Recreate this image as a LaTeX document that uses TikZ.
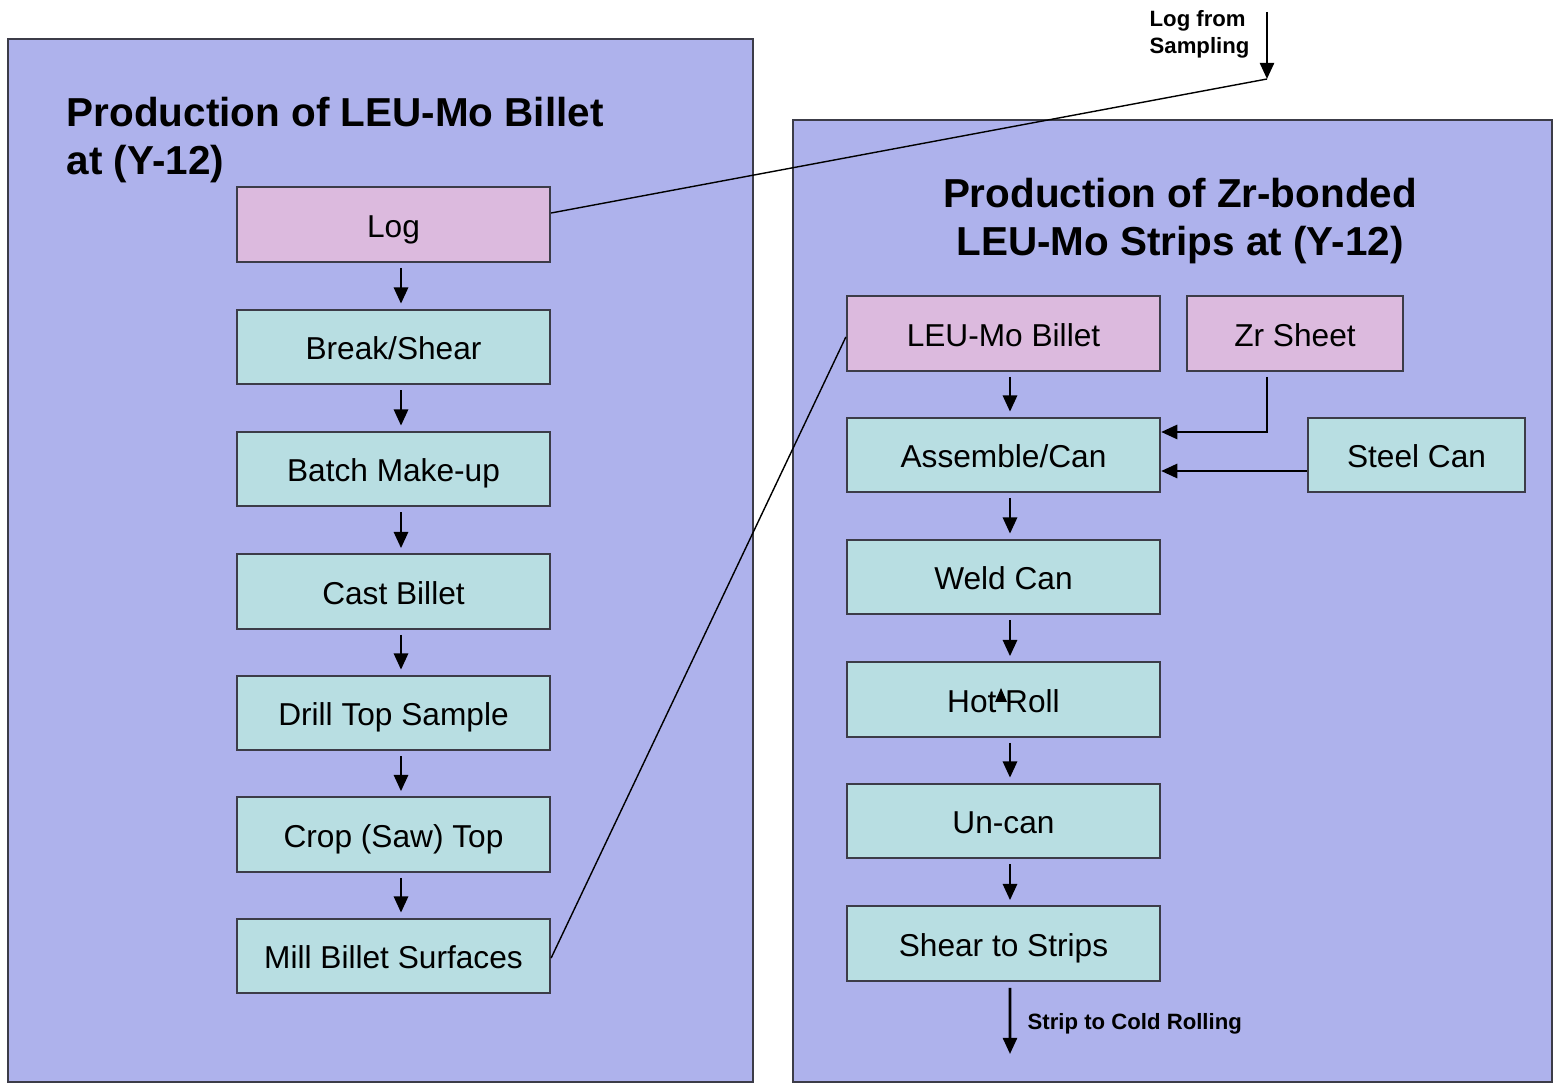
\documentclass[tikz,border=0pt]{standalone}
\usepackage{fontspec}
\setmainfont{Liberation Sans}
\usetikzlibrary{arrows.meta}
\definecolor{panelc}{RGB}{174,178,236}
\definecolor{pinkc}{RGB}{220,186,222}
\definecolor{tealc}{RGB}{184,222,226}
\definecolor{edgec}{RGB}{60,60,72}
\tikzset{
  panel/.style={draw=edgec, line width=0.6pt, fill=panelc},
  boxbase/.style={draw=edgec, line width=0.6pt, inner sep=0pt, minimum width=3.13cm, minimum height=0.745cm, text height=0.72em, text depth=0pt, font=\fontsize{9}{10.8}\selectfont},
  pbox/.style={boxbase, fill=pinkc},
  tbox/.style={boxbase, fill=tealc},
  arr/.style={line width=0.75pt, -{Triangle[width=4pt,length=4.6pt]}},
  thin line/.style={line width=0.4pt},
  titletext/.style={font=\fontsize{11.5}{13.8}\selectfont\bfseries, inner sep=0pt},
  smalltext/.style={font=\fontsize{6.3}{7.7}\selectfont\bfseries, inner sep=0pt}
}
\begin{document}
\begin{tikzpicture}[x=0.01cm, y=-0.01cm]
\useasboundingbox (0,0) rectangle (1553,1085);
% panels
\draw[panel] (8,39) rectangle (753,1082);
\draw[panel] (793,120) rectangle (1552,1082);
% titles
\node[titletext, anchor=north west, align=left] (t1) at (66,96) {Production of LEU-Mo Billet\\at (Y-12)};
\node[titletext, anchor=north, align=center] (t2) at (1180,177) {Production of Zr-bonded\\LEU-Mo Strips at (Y-12)};
% left column
\node[pbox] (log) at (393.5,224.5) {Log};
\node[tbox] (brk) at (393.5,347) {Break/Shear};
\node[tbox] (bat) at (393.5,469) {Batch Make-up};
\node[tbox] (cst) at (393.5,591.5) {Cast Billet};
\node[tbox] (drl) at (393.5,713) {Drill Top Sample};
\node[tbox] (crp) at (393.5,834.5) {Crop (Saw) Top};
\node[tbox] (mil) at (393.5,956) {Mill Billet Surfaces};
\foreach \a/\b in {log/brk,brk/bat,bat/cst,cst/drl,drl/crp,crp/mil}{
  \draw[arr, shorten <=0.5mm, shorten >=0.5mm] ([xshift=0.075cm]\a.south) -- ([xshift=0.075cm]\b.north);
}
% right column
\node[pbox] (leu) at (1003.5,333.5) {LEU-Mo Billet};
\node[pbox, minimum width=2.16cm] (zr) at (1295,333.5) {Zr Sheet};
\node[tbox] (asm) at (1003.5,455) {Assemble/Can};
\node[tbox, minimum width=2.17cm] (stl) at (1416.5,455) {Steel Can};
\node[tbox] (wld) at (1003.5,577) {Weld Can};
\node[tbox] (hot) at (1003.5,699.5) {Hot Roll};
\node[tbox] (unc) at (1003.5,821) {Un-can};
\node[tbox] (shr) at (1003.5,943.5) {Shear to Strips};
\foreach \a/\b in {leu/asm,asm/wld,wld/hot,hot/unc,unc/shr}{
  \draw[arr, shorten <=0.5mm, shorten >=0.5mm] ([xshift=0.065cm]\a.south) -- ([xshift=0.065cm]\b.north);
}
\draw[arr, shorten <=0.5mm] ([xshift=-0.28cm]zr.south) |- ([yshift=0.23cm]asm.east);
\draw[arr] ([yshift=-0.16cm]stl.west) -- ([yshift=-0.16cm]asm.east);
% stray arrowhead inside Hot Roll
\fill (995,702) -- (1001,688) -- (1007,702) -- cycle;
% external inputs / outputs
\node[smalltext, anchor=north west, align=left] (lfs) at (1149,10) {Log from\\Sampling};
\coordinate (lfsTop) at (1267,12);
\coordinate (lfsEnd) at (1267,79);
\draw[arr] (lfsTop) -- (lfsEnd);
\draw[thin line] (lfsEnd) -- ([yshift=0.115cm]log.east);
\draw[thin line] ([yshift=-0.02cm]mil.east) -- ([yshift=-0.035cm]leu.west);
\coordinate (outEnd) at (1010,1054);
\draw[arr] ([xshift=0.065cm, yshift=-0.06cm]shr.south) -- (outEnd);
\node[smalltext, anchor=west] (out) at (1027,1024) {Strip to Cold Rolling};
\end{tikzpicture}
\end{document}
